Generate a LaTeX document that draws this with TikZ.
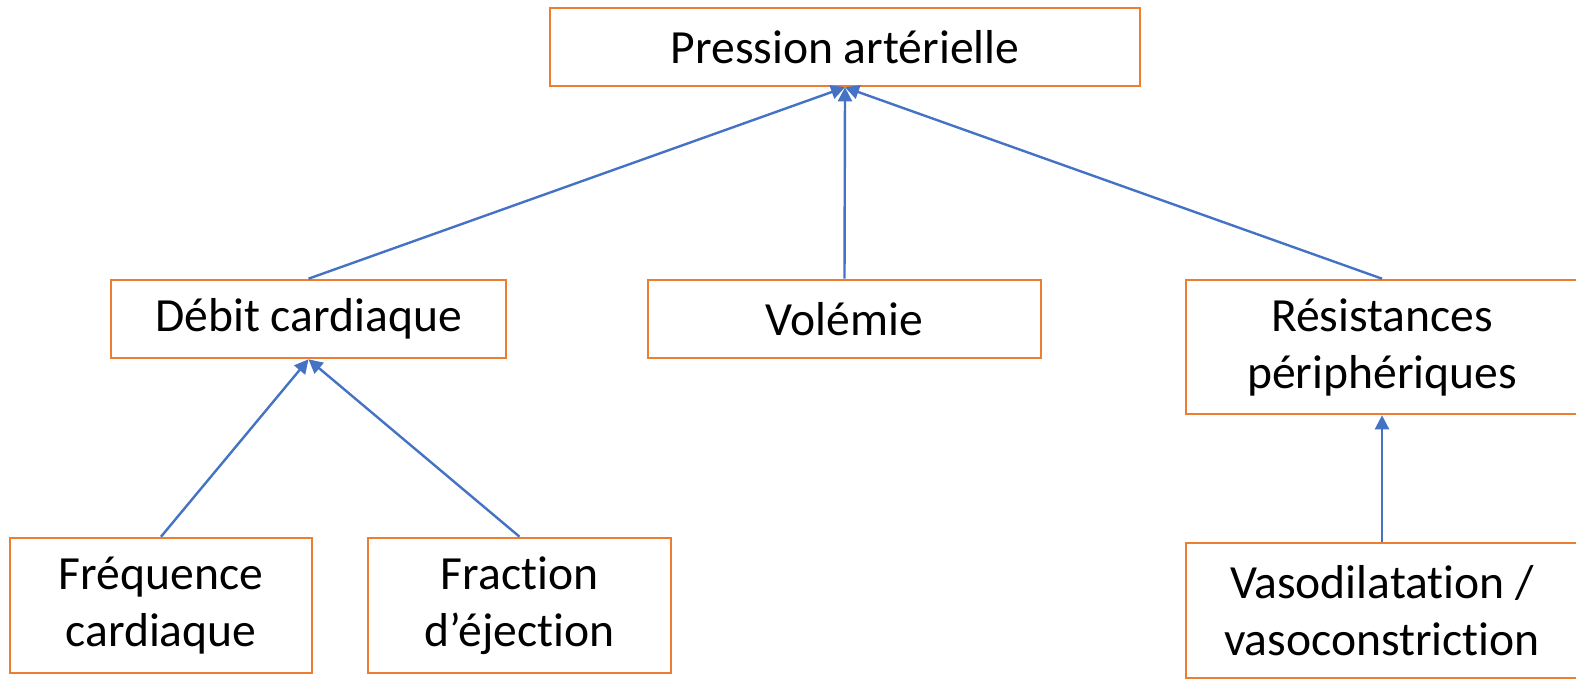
\documentclass[tikz,border=0pt]{standalone}
\usepackage{fontspec}
\setmainfont{Carlito}[Ligatures=NoCommon]
\usetikzlibrary{arrows.meta}
\definecolor{boxorange}{HTML}{ED7D31}
\definecolor{arrowblue}{HTML}{4472C4}
\tikzset{
  box/.style={draw=boxorange, line width=2.6pt, rectangle, align=center,
    inner sep=0pt, font=\fontsize{47.6}{57}\selectfont},
  link/.style={draw=arrowblue, line width=2.4pt,
    -{Triangle[width=14pt,length=14pt]}}
}
\begin{document}
\begin{tikzpicture}[x=1pt,y=-1pt]
\useasboundingbox (0,0) rectangle (1576,678);
\node[box, minimum width=590pt, minimum height=78pt] (P) at (845,47) {Pression artérielle};
\node[box, minimum width=395pt, minimum height=78pt] (D) at (308.5,319) {Débit cardiaque};
\node[box, minimum width=393pt, minimum height=78pt] (V) at (844.5,319) {Volémie};
\node[box, minimum width=392pt, minimum height=134pt] (R) at (1382,347) {Résistances\\périphériques};
\node[box, minimum width=302pt, minimum height=135pt] (F) at (161,605.5) {Fréquence\\cardiaque};
\node[box, minimum width=303pt, minimum height=135pt] (E) at (519.5,605.5) {Fraction\\d’éjection};
\node[box, minimum width=392pt, minimum height=135pt] (X) at (1382,610.5) {Vasodilatation /\\vasoconstriction};
\draw[link] (D.north) -- (P.south);
\draw[link] (V.north) -- (P.south);
\draw[link] (R.north) -- (P.south);
\draw[link] (F.north) -- (D.south);
\draw[link] (E.north) -- (D.south);
\draw[link] (X.north) -- (R.south);
\end{tikzpicture}
\end{document}
